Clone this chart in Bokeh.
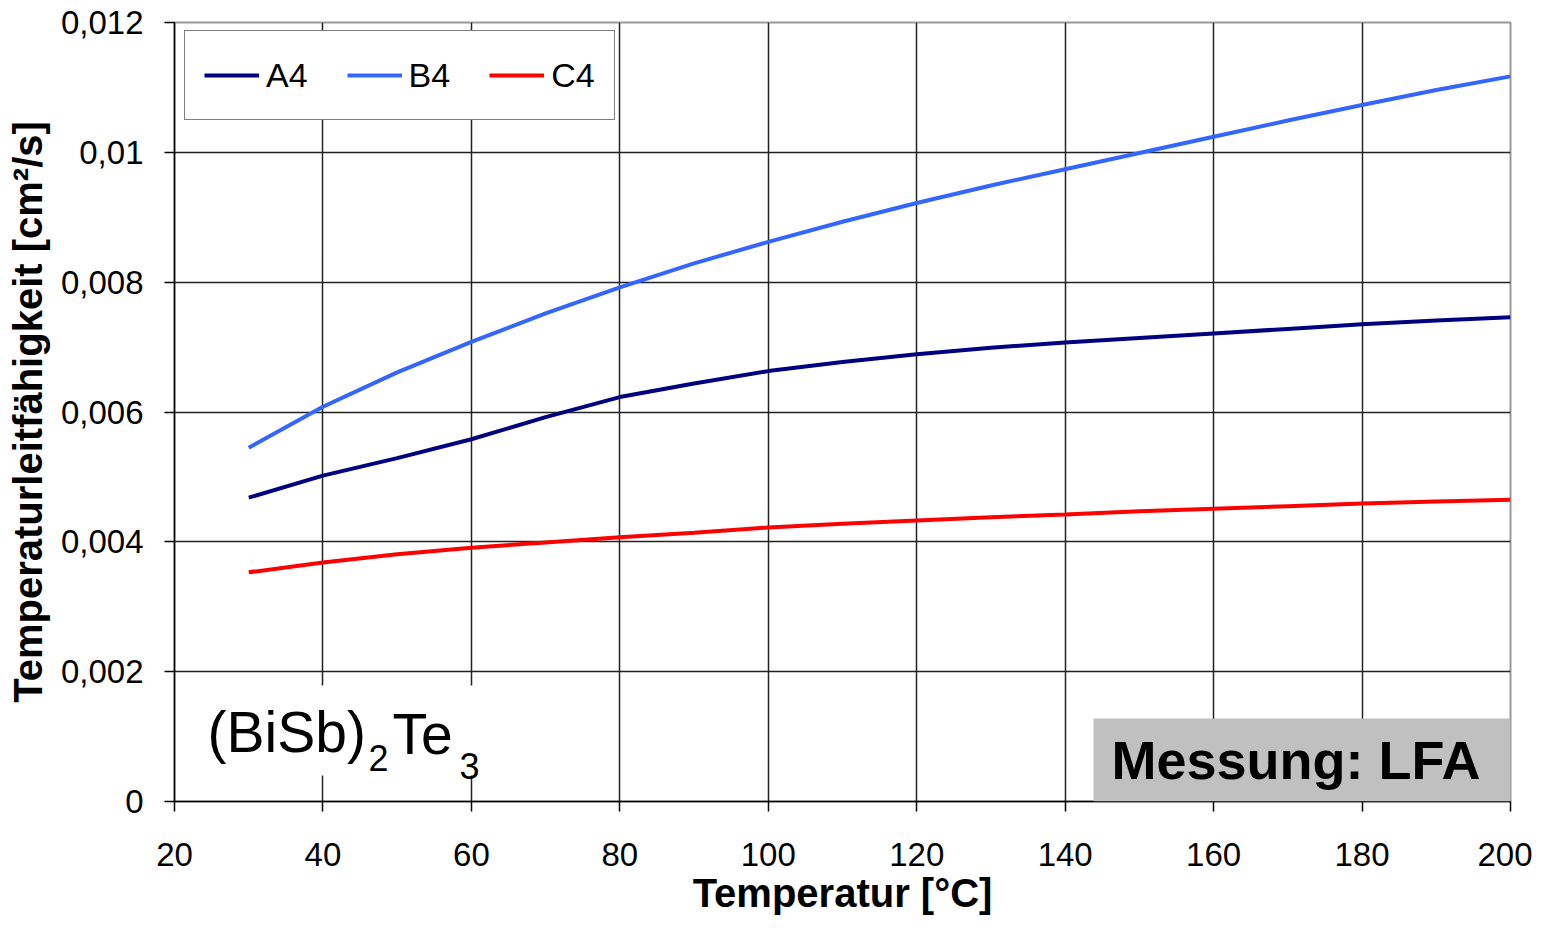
from bokeh.plotting import figure
from bokeh.models import (Range1d, FixedTicker, CustomJSTickFormatter, Legend, LegendItem, Label)
from bokeh.embed import file_html
from bokeh.resources import INLINE

# ---- data ----
temps = [30, 40, 50, 60, 70, 80, 90, 100, 110, 120, 130, 140, 150, 160, 170, 180, 190, 200]
a4 = [0.00468, 0.00502, 0.00529, 0.00558, 0.00592, 0.00623, 0.00644, 0.00663, 0.00677, 0.00689,
      0.00699, 0.00707, 0.00714, 0.00721, 0.00728, 0.00735, 0.00741, 0.00746]
b4 = [0.00545, 0.00608, 0.00661, 0.00708, 0.00752, 0.00792, 0.00829, 0.00862, 0.00893, 0.00922,
      0.00949, 0.00974, 0.00999, 0.01024, 0.01049, 0.01073, 0.01096, 0.01117]
c4 = [0.00353, 0.00368, 0.00381, 0.00391, 0.00399, 0.00407, 0.00414, 0.00422, 0.00428, 0.00433,
      0.00438, 0.00442, 0.00447, 0.00451, 0.00455, 0.00459, 0.00462, 0.00465]
series_names = ["A4", "B4", "C4"]
series_colors = ["#000080", "#3366FF", "#FF0000"]
x_ticks = [20, 40, 60, 80, 100, 120, 140, 160, 180, 200]
y_ticks = [0, 0.002, 0.004, 0.006, 0.008, 0.010, 0.012]
x_title = "Temperatur [°C]"
y_title = "Temperaturleitfähigkeit [cm²/s]"

FONT = "Liberation Sans"

p = figure(width=1532, height=917, output_backend="svg", toolbar_location=None,
           x_range=Range1d(20, 200), y_range=Range1d(0, 0.012),
           min_border_left=174, min_border_right=22, min_border_top=22, min_border_bottom=113)
p.background_fill_color = "white"
p.border_fill_color = "white"
p.outline_line_color = "#999999"
p.outline_line_width = 2

for ax in (p.xaxis[0], p.yaxis[0]):
    ax.axis_line_color = "black"
    ax.axis_line_width = 1.5
    ax.major_tick_line_color = "black"
    ax.major_tick_line_width = 1.5
    ax.major_tick_in = 0
    ax.major_tick_out = 10
    ax.minor_tick_line_color = None
    ax.major_label_text_font = FONT
    ax.major_label_text_font_size = "33px"
    ax.major_label_text_color = "black"
    ax.axis_label_text_font = FONT
    ax.axis_label_text_font_style = "bold"
    ax.axis_label_text_font_size = "40px"
    ax.axis_label_text_color = "black"

p.xaxis.ticker = FixedTicker(ticks=x_ticks)
p.yaxis.ticker = FixedTicker(ticks=y_ticks)
p.yaxis.formatter = CustomJSTickFormatter(
    code="if (Math.abs(tick) < 1e-12) return '0'; return tick.toFixed(3).replace(/0+$/, '').replace('.', ',');")
p.xaxis.axis_label = x_title
p.yaxis.axis_label = y_title
p.xaxis.major_label_standoff = 31
p.yaxis.major_label_standoff = 21
p.xaxis.axis_label_standoff = 2
p.yaxis.axis_label_standoff = 8

p.xgrid.ticker = FixedTicker(ticks=x_ticks)
p.ygrid.ticker = FixedTicker(ticks=y_ticks)
for g in (p.xgrid[0], p.ygrid[0]):
    g.grid_line_color = "#222222"
    g.grid_line_width = 1.5

items = []
for name, col, ys in zip(series_names, series_colors, [a4, b4, c4]):
    r = p.line(temps, ys, line_color=col, line_width=4)
    items.append(LegendItem(label=name, renderers=[r]))

legend = Legend(items=items, orientation="horizontal", location=(10, 681),
                label_text_font=FONT, label_text_font_size="34px", label_text_color="black",
                glyph_width=55, glyph_height=50, label_height=50, label_standoff=7,
                spacing=39, padding=19, margin=0,
                border_line_color="black", border_line_width=1.5,
                background_fill_color="white", background_fill_alpha=1)
p.add_layout(legend, "center")

# formula label with white background
f1 = Label(x=20, y=0, x_offset=23, y_offset=71, text="(BiSb)", text_font=FONT,
           text_font_size="57px", text_color="black", text_baseline="alphabetic",
           background_fill_color="white", background_fill_alpha=1,
           padding=dict(left=10, right=135, top=14, bottom=12))
f2 = Label(x=20, y=0, x_offset=194, y_offset=44, text="2", text_font=FONT,
           text_font_size="36px", text_color="black", text_baseline="alphabetic")
f3 = Label(x=20, y=0, x_offset=218, y_offset=68, text="Te", text_font=FONT,
           text_font_size="57px", text_color="black", text_baseline="alphabetic")
f4 = Label(x=20, y=0, x_offset=285, y_offset=36, text="3", text_font=FONT,
           text_font_size="36px", text_color="black", text_baseline="alphabetic")
for lab in (f1, f2, f3, f4):
    p.add_layout(lab)

m = Label(x=200, y=0, text="Messung: LFA", text_font=FONT, text_font_style="bold",
          text_font_size="54px", text_color="black", text_align="right", text_baseline="bottom",
          background_fill_color="#C0C0C0", background_fill_alpha=1,
          padding=dict(left=18, right=30, top=11, bottom=12))
p.add_layout(m)

open("out.html", "w").write(file_html(p, INLINE))
